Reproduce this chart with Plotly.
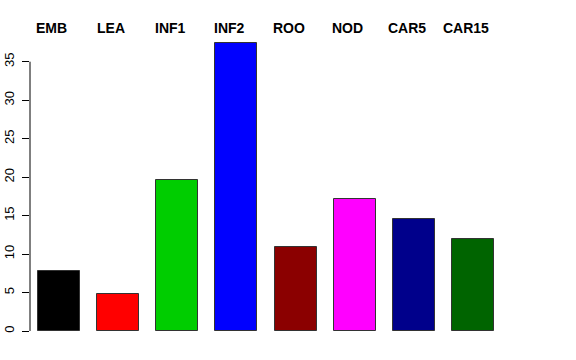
import plotly.graph_objects as go

categories = ["EMB", "LEA", "INF1", "INF2", "ROO", "NOD", "CAR5", "CAR15"]
values = [7.8, 4.75, 19.6, 37.4, 10.9, 17.2, 14.5, 11.9]
colors = ["#000000", "#FF0000", "#00CD00", "#0000FF", "#8B0000", "#FF00FF", "#00008B", "#006400"]
tick_vals = [0, 5, 10, 15, 20, 25, 30, 35]

xpos = list(range(len(categories)))

fig = go.Figure()
fig.add_trace(go.Bar(
    x=xpos, y=values, width=0.71,
    marker=dict(color=colors, line=dict(color="#333333", width=1)),
    showlegend=False, hoverinfo="skip",
))

for i, c in enumerate(categories):
    fig.add_annotation(x=i, y=1, xref="x", yref="paper", text=f"<b>{c}</b>",
                       showarrow=False, xanchor="center", yanchor="middle",
                       xshift=-7, yshift=-8,
                       font=dict(family="Liberation Sans, Arial, sans-serif", size=14, color="black"))

# y axis line spanning only the tick range (R style)
fig.add_shape(type="line", xref="paper", yref="y", x0=0, x1=0,
              y0=tick_vals[0], y1=tick_vals[-1], line=dict(color="black", width=1))

fig.update_layout(
    width=576, height=360,
    margin=dict(l=30, r=30, t=20, b=10, autoexpand=False),
    paper_bgcolor="white", plot_bgcolor="white",
    font=dict(family="Liberation Sans, Arial, sans-serif", size=12, color="black"),
    xaxis=dict(range=[-0.49, 8.235], showticklabels=False, showgrid=False,
               zeroline=False, showline=False, ticks="", automargin=False),
    yaxis=dict(range=[-2.47, 40.42], tickvals=tick_vals, ticks="outside", ticklen=7,
               tickcolor="black", tickangle=-90, showgrid=False, zeroline=False,
               showline=False, ticklabelstandoff=3, automargin=False,
               tickfont=dict(size=13, color="black")),
    bargap=0,
)

fig.write_html("out.html", config={"displayModeBar": False},
               post_script="document.body.style.margin='0';document.body.style.overflow='hidden';")
